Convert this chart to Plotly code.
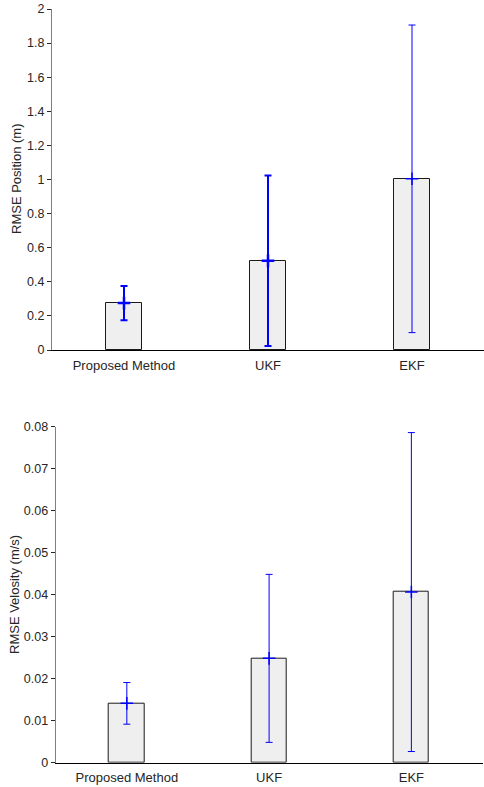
import plotly.graph_objects as go

categories = ["Proposed Method", "UKF", "EKF"]
x_pos = [1, 2, 3]

pos_mean = [0.275, 0.523, 1.004]
pos_err = [0.100, 0.500, 0.902]
pos_err_width = [2, 2, 1]

vel_mean = [0.01413, 0.02484, 0.04063]
vel_err = [0.00496, 0.02000, 0.03797]
vel_err_width = [1, 1, 1]

pos_ticks = [0, 0.2, 0.4, 0.6, 0.8, 1, 1.2, 1.4, 1.6, 1.8, 2]
pos_ticktext = ["0", "0.2", "0.4", "0.6", "0.8", "1", "1.2", "1.4", "1.6", "1.8", "2"]
vel_ticks = [0, 0.01, 0.02, 0.03, 0.04, 0.05, 0.06, 0.07, 0.08]
vel_ticktext = ["0", "0.01", "0.02", "0.03", "0.04", "0.05", "0.06", "0.07", "0.08"]

W, H = 484, 787
FONT = "Liberation Sans, Arial, sans-serif"
TXT = "#262626"

fig = go.Figure()

def add_panel(means, errs, widths, xa, ya):
    fig.add_trace(go.Bar(
        x=x_pos, y=means, width=0.25,
        marker=dict(color="#efefef", line=dict(color="#1a1a1a", width=1)),
        xaxis=xa, yaxis=ya, showlegend=False, hoverinfo="skip",
    ))
    for i in range(len(means)):
        fig.add_trace(go.Scatter(
            x=[x_pos[i]], y=[means[i]], mode="markers",
            marker=dict(symbol="cross-thin", size=9, color="#0000ff",
                        line=dict(color="#0000ff", width=widths[i] + 0.5)),
            error_y=dict(type="data", array=[errs[i]], visible=True,
                         color="#0000ff", thickness=widths[i], width=3.5),
            xaxis=xa, yaxis=ya, showlegend=False, hoverinfo="skip",
        ))

add_panel(pos_mean, pos_err, pos_err_width, "x", "y")
add_panel(vel_mean, vel_err, vel_err_width, "x2", "y2")

def py(px):
    return 1 - px / H

common_x = dict(range=[0.5, 3.5], tickvals=x_pos, ticktext=categories,
                showline=True, linecolor="#000000", linewidth=1, ticks="",
                ticklabelstandoff=3,
                showgrid=False, zeroline=False, fixedrange=True,
                tickfont=dict(family=FONT, size=13, color=TXT), automargin=False)
common_y = dict(showline=True, linecolor="#808080", linewidth=1, ticks="outside",
                ticklen=4, tickcolor="#262626", tickwidth=1,
                showgrid=False, zeroline=False, fixedrange=True,
                tickfont=dict(family=FONT, size=12.5, color=TXT), automargin=False)

fig.update_layout(
    width=W, height=H,
    margin=dict(l=0, r=0, t=0, b=0),
    paper_bgcolor="white", plot_bgcolor="white",
    bargap=0,
    xaxis=dict(domain=[52 / W, 1.0], anchor="y", **common_x),
    yaxis=dict(domain=[py(350), py(9)], anchor="x", range=[0, 2],
               tickvals=pos_ticks, ticktext=pos_ticktext, **common_y),
    xaxis2=dict(domain=[55.7 / W, 482.5 / W], anchor="y2", **common_x),
    yaxis2=dict(domain=[py(762.7), py(426.7)], anchor="x2", range=[0, 0.08],
                tickvals=vel_ticks, ticktext=vel_ticktext, **common_y),
    annotations=[
        dict(text="RMSE Position (m)", x=16 / W, y=py(179), xref="paper", yref="paper",
             textangle=-90, showarrow=False, xanchor="center", yanchor="middle",
             font=dict(family=FONT, size=13, color=TXT)),
        dict(text="RMSE Velosity (m/s)", x=14 / W, y=py(595), xref="paper", yref="paper",
             textangle=-90, showarrow=False, xanchor="center", yanchor="middle",
             font=dict(family=FONT, size=13, color=TXT)),
    ],
)

fig.write_html("out.html", config={"displayModeBar": False},
               post_script="document.body.style.margin='0';document.body.style.overflow='hidden';")
